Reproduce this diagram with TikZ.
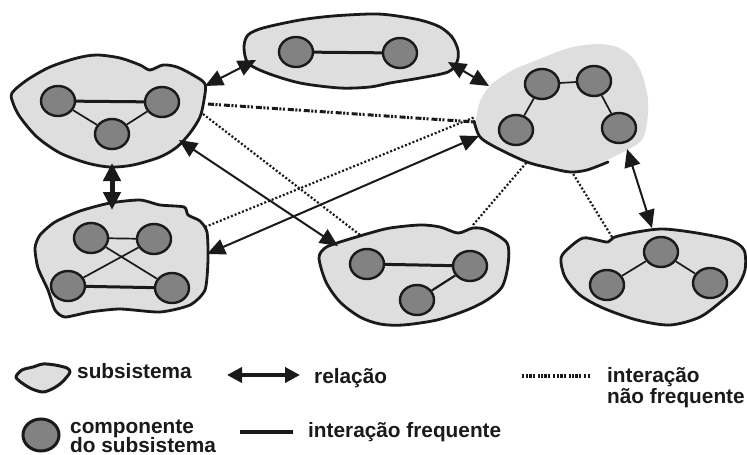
\documentclass[tikz,border=0pt]{standalone}
\usepackage{fontspec}
\setmainfont{Liberation Sans}
\usetikzlibrary{arrows.meta,shapes.geometric}
\definecolor{blobfill}{HTML}{DEDEDE}
\definecolor{ink}{HTML}{1A1A1A}
\definecolor{compfill}{HTML}{828282}
\begin{document}
\begin{tikzpicture}[x=1pt,y=-1pt,
  blob/.style={fill=blobfill, draw=ink, line width=2.8pt, line join=round},
  comp/.style={ellipse, draw=ink, fill=compfill, line width=2.4pt, minimum width=34pt, minimum height=30pt, inner sep=0pt},
  freq/.style={draw=ink, line width=3pt},
  weak/.style={draw=ink, line width=1.7pt},
  rel/.style={draw=ink, line width=2pt, {Triangle[length=18pt,width=16pt]}-{Triangle[length=18pt,width=16pt]}},
  relthick/.style={draw=ink, line width=5pt, {Triangle[length=18pt,width=17pt]}-{Triangle[length=18pt,width=17pt]}},
  rare/.style={draw=ink, line width=2.2pt, dash pattern=on 2pt off 2pt},
  rareheavy/.style={draw=ink, line width=3pt, dash pattern=on 6pt off 1.5pt on 2pt off 1.5pt on 2pt off 3pt},
  lbl/.style={font=\fontsize{20.8}{24}\selectfont\bfseries, text=ink, anchor=base west, inner sep=0pt}
]
\useasboundingbox (0,0) rectangle (747,455);
\fill[white] (0,0) rectangle (747,455);

% ---- subsystems (blobs) ----
\draw[blob] plot[smooth cycle, tension=0.5] coordinates {(12,93) (27,80) (50,67) (77,58) (97,55) (120,58) (140,65) (150,70) (163,65) (177,67) (193,75) (205,84) (204,100) (200,117) (190,133) (177,147) (160,157) (133,165) (110,167) (87,163) (60,153) (37,137) (20,117) (13,103)};
\draw[blob] plot[smooth cycle, tension=0.5] coordinates {(244,47) (248,35) (263,28) (300,20) (333,16) (370,14) (390,15) (420,20) (440,27) (452,37) (458,50) (457,62) (448,72) (420,78) (390,83) (370,87) (340,88) (300,83) (267,73) (248,63)};
\fill[blobfill] plot[smooth cycle, tension=0.5] coordinates {(477,113) (482,97) (493,83) (513,70) (537,60) (557,52) (573,47) (597,44) (617,47) (633,58) (643,77) (648,100) (647,123) (642,140) (627,150) (603,162) (583,170) (567,172) (547,168) (527,162) (503,152) (485,140) (476,128)};
\draw[ink, line width=2.8pt, line cap=round] plot[smooth, tension=0.5] coordinates {(474,121) (480,137) (497,148) (527,162) (550,168) (570,172) (587,170) (608,162)};
\draw[blob] plot[smooth cycle, tension=0.4] coordinates {(35,248) (40,235) (55,222) (80,211) (110,203) (140,200) (160,205) (184,207) (188,215) (200,221) (207,232) (208,260) (205,290) (190,305) (160,312) (120,309) (90,312) (65,317) (55,310) (48,290) (38,268)};
\draw[blob] plot[smooth cycle, tension=0.5] coordinates {(319,258) (325,248) (337,243) (353,238) (370,233) (390,228) (420,225) (440,227) (458,233) (473,228) (487,230) (507,243) (508,265) (502,287) (487,300) (467,310) (437,320) (403,325) (380,324) (360,317) (340,302) (326,282)};
\draw[blob] plot[smooth cycle, tension=0.5] coordinates {(561,258) (570,247) (583,238) (597,240) (608,242) (615,237) (637,232) (663,229) (697,233) (730,240) (744,250) (745,270) (737,287) (723,300) (700,317) (670,325) (637,320) (603,308) (580,295) (565,277)};

% ---- connector end points ----
\coordinate (Ar) at (205,86);  \coordinate (Bl) at (256,60);
\coordinate (Br) at (448,62);  \coordinate (Cl) at (489,86);
\coordinate (Ab) at (112,163); \coordinate (Dt) at (112,210);
\coordinate (Ae) at (179,140); \coordinate (Et) at (338,246);
\coordinate (Dr) at (207,254); \coordinate (Cd) at (479,136);
\coordinate (Cf) at (627,149); \coordinate (Ft) at (652,228);
\coordinate (Ac1) at (208,104); \coordinate (Ca1) at (475,122);
\coordinate (Ae2) at (203,114); \coordinate (Ea2) at (360,235);
\coordinate (Dc) at (205,227);  \coordinate (Cd2) at (475,117);
\coordinate (Ec) at (473,225);  \coordinate (Ce) at (527,162);
\coordinate (Fc) at (612,237);  \coordinate (Cfd) at (572,172);

% ---- infrequent interactions ----
\draw[rareheavy] (Ac1) -- (Ca1);
\draw[rare] (Ae2) -- (Ea2);
\draw[rare] (Dc) -- (Cd2);
\draw[rare] (Ec) -- (Ce);
\draw[rare] (Fc) -- (Cfd);

% ---- relations ----
\draw[rel] (Ar) -- (Bl);
\draw[rel] (Br) -- (Cl);
\draw[relthick] (Ab) -- (Dt);
\draw[rel] (Ae) -- (Et);
\draw[rel] (Dr) -- (Cd);
\draw[rel] (Cf) -- (Ft);

% ---- components ----
\node[comp] (a1) at (58,101) {};
\node[comp] (a2) at (162,102) {};
\node[comp] (a3) at (112,134) {};
\node[comp] (b1) at (296,52) {};
\node[comp] (b2) at (400,53) {};
\node[comp] (c1) at (542,84) {};
\node[comp] (c2) at (594,81) {};
\node[comp] (c3) at (516,130) {};
\node[comp] (c4) at (619,128) {};
\node[comp] (d1) at (91,238) {};
\node[comp] (d2) at (154,239) {};
\node[comp] (d3) at (68,286) {};
\node[comp] (d4) at (172,288) {};
\node[comp] (e1) at (367,264) {};
\node[comp] (e2) at (470,266) {};
\node[comp] (e3) at (417,300) {};
\node[comp] (f1) at (661,252) {};
\node[comp] (f2) at (607,285) {};
\node[comp] (f3) at (710,283) {};

\draw[freq] (a1) -- (a2);
\draw[weak] (a1) -- (a3);
\draw[weak] (a2) -- (a3);
\draw[freq] (b1) -- (b2);
\draw[weak] (c1) -- (c2);
\draw[weak] (c1) -- (c3);
\draw[weak] (c2) -- (c4);
\draw[weak] (d1) -- (d2);
\draw[weak] (d1) -- (d4);
\draw[weak] (d2) -- (d3);
\draw[freq] (d3) -- (d4);
\draw[freq] (e1) -- (e2);
\draw[weak, line width=2.2pt] (e2) -- (e3);
\draw[weak] (f1) -- (f2);
\draw[weak] (f1) -- (f3);

% ---- legend ----
\draw[blob, line width=3pt] plot[smooth cycle, tension=0.5] coordinates {(16,377) (22,370) (33,367) (43,364) (55,365) (67,368) (70,372) (66,378) (60,384) (52,389) (43,392) (32,389) (22,383)};
\node[lbl] (t1) at (77,378) {subsistema};
\coordinate (lr1) at (227,375); \coordinate (lr2) at (300,375);
\draw[draw=ink, line width=4.5pt, {Triangle[length=15pt,width=15pt]}-{Triangle[length=15pt,width=15pt]}] (lr1) -- (lr2);
\node[lbl] (t2) at (314,383) {relação};
\coordinate (ld1) at (522,376); \coordinate (ld2) at (590,376);
\draw[draw=ink, line width=4pt, dash pattern=on 2pt off 1.5pt on 2pt off 1pt on 3pt off 1pt on 2pt off 3pt] (ld1) -- (ld2);
\node[lbl] (t3) at (607,382) {interação};
\node[lbl] (t4) at (607,403) {não frequente};
\node[comp, minimum width=36pt, minimum height=32pt, line width=3pt] (lc) at (41,435) {};
\node[lbl] (t5) at (70,433) {componente};
\node[lbl] (t6) at (70,452) {do subsistema};
\coordinate (lf1) at (240,432); \coordinate (lf2) at (293,432);
\draw[draw=ink, line width=4pt] (lf1) -- (lf2);
\node[lbl] (t7) at (308,437) {interação frequente};
\end{tikzpicture}
\end{document}
